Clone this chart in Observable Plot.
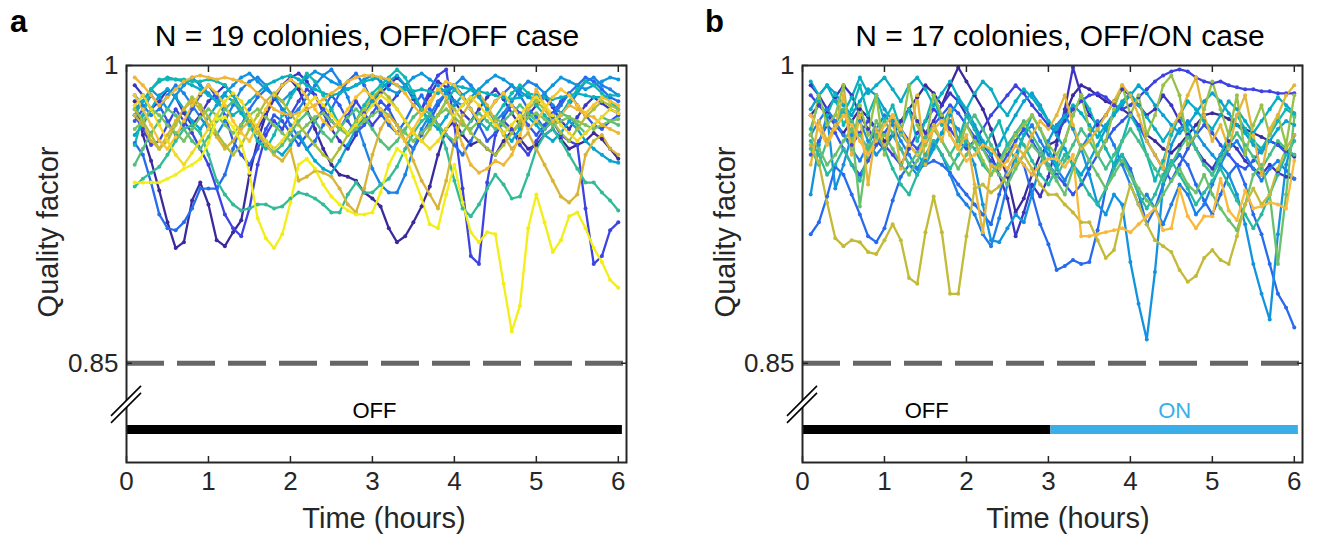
<!DOCTYPE html>
<html><head><meta charset="utf-8">
<script src="https://cdn.jsdelivr.net/npm/d3@7"></script>
<script src="https://cdn.jsdelivr.net/npm/@observablehq/plot@0.6"></script>
<style>
html,body{margin:0;padding:0;background:#fff;}
#root{position:relative;width:1320px;height:536px;overflow:hidden;font-family:"Liberation Sans",Arial,sans-serif;color:#1a1a1a;}
.panel{position:absolute;top:0;width:660px;height:536px;}
.panel svg{position:absolute;left:0;top:0;}
.lbl{position:absolute;white-space:nowrap;line-height:1;}
</style></head><body><div id="root"></div>
<script>
// ---- sampling times (hours) ----
const hours = [0.1,0.2,0.3,0.4,0.5,0.6,0.7,0.8,0.9,1.0,1.1,1.2,1.3,1.4,1.5,1.6,1.7,1.8,1.9,2.0,
  2.1,2.2,2.3,2.4,2.5,2.6,2.7,2.8,2.9,3.0,3.1,3.2,3.3,3.4,3.5,3.6,3.7,3.8,3.9,4.0,
  4.1,4.2,4.3,4.4,4.5,4.6,4.7,4.8,4.9,5.0,5.1,5.2,5.3,5.4,5.5,5.6,5.7,5.8,5.9,6.0];

// ---- panel a: OFF/OFF colonies (quality factor) ----
const offOff01 = [.982,.965,.952,.937,.921,.908,.911,.932,.941,.930,.912,.909,.916,.922,.945,.962,.975,.985,.990,.993,
  .988,.978,.968,.958,.950,.945,.944,.942,.936,.933,.929,.918,.911,.914,.921,.929,.939,.955,.968,.972,
  .965,.960,.962,.958,.955,.962,.967,.963,.958,.960,.965,.968,.963,.958,.960,.962,.966,.963,.958,.953];
const offOff02 = [.990,.985,.978,.982,.988,.984,.976,.970,.975,.982,.986,.990,.985,.978,.972,.968,.975,.983,.990,.994,
  .996,.992,.985,.976,.968,.962,.958,.965,.975,.982,.986,.990,.994,.990,.983,.978,.985,.992,.989,.982,
  .976,.972,.978,.984,.988,.983,.976,.970,.975,.980,.984,.979,.972,.968,.974,.980,.984,.981,.978,.976];
const offOff03 = [.975,.968,.960,.962,.970,.978,.972,.966,.958,.950,.938,.925,.918,.914,.928,.950,.965,.972,.968,.975,
  .982,.988,.985,.978,.972,.968,.975,.982,.976,.970,.975,.980,.985,.990,.985,.978,.988,.995,.998,.970,
  .938,.904,.900,.941,.965,.972,.968,.960,.955,.962,.968,.972,.965,.962,.960,.928,.900,.904,.917,.921];
const offOff04 = [.972,.978,.985,.980,.972,.965,.970,.978,.985,.990,.984,.975,.962,.955,.950,.958,.968,.975,.972,.966,
  .960,.965,.972,.978,.985,.980,.972,.966,.970,.976,.982,.978,.970,.962,.958,.965,.972,.980,.986,.990,
  .985,.978,.970,.962,.966,.974,.980,.976,.970,.965,.970,.976,.982,.986,.980,.975,.970,.968,.972,.975];
const offOff05 = [.961,.955,.941,.925,.918,.917,.921,.928,.938,.938,.938,.945,.958,.970,.978,.984,.988,.985,.978,.970,
  .964,.958,.962,.970,.978,.986,.992,.996,.990,.982,.976,.970,.966,.972,.980,.985,.978,.970,.965,.960,
  .955,.962,.970,.976,.982,.986,.990,.985,.978,.974,.968,.974,.980,.986,.990,.994,.992,.988,.984,.982];
const offOff06 = [.985,.980,.975,.978,.985,.990,.986,.980,.974,.968,.965,.972,.980,.988,.992,.994,.990,.984,.978,.974,
  .978,.984,.990,.995,.998,.992,.984,.972,.960,.948,.940,.936,.936,.945,.958,.968,.975,.982,.986,.990,
  .994,.990,.985,.978,.972,.976,.982,.988,.992,.990,.986,.980,.976,.980,.986,.992,.994,.990,.988,.985];
const offOff07 = [.978,.982,.988,.984,.978,.985,.990,.994,.990,.986,.982,.986,.990,.994,.996,.992,.988,.985,.982,.986,
  .990,.994,.997,.995,.992,.990,.988,.990,.993,.995,.992,.988,.986,.990,.994,.996,.993,.990,.986,.982,
  .980,.984,.988,.992,.995,.993,.990,.987,.984,.982,.986,.990,.994,.992,.990,.988,.990,.992,.994,.993];
const offOff08 = [.965,.970,.978,.985,.988,.984,.978,.972,.968,.974,.980,.985,.982,.976,.970,.966,.962,.958,.955,.960,
  .966,.958,.952,.948,.946,.952,.960,.968,.975,.982,.988,.992,.995,.990,.984,.978,.972,.968,.974,.980,
  .985,.988,.984,.978,.972,.966,.962,.968,.974,.970,.965,.962,.966,.972,.968,.962,.958,.955,.952,.951];
const offOff09 = [.975,.982,.988,.992,.994,.993,.992,.990,.988,.985,.982,.978,.975,.978,.982,.986,.990,.992,.994,.995,
  .993,.990,.988,.986,.985,.986,.988,.990,.992,.993,.994,.992,.990,.988,.987,.988,.987,.986,.988,.990,
  .989,.988,.987,.986,.985,.984,.983,.984,.986,.985,.984,.983,.984,.985,.986,.985,.984,.984,.985,.985];
const offOff10 = [.960,.975,.988,.993,.993,.993,.993,.992,.992,.993,.992,.990,.985,.978,.970,.962,.958,.965,.975,.984,
  .990,.996,.992,.985,.978,.970,.966,.972,.980,.986,.990,.994,.998,.994,.986,.978,.970,.975,.982,.988,
  .984,.978,.972,.968,.974,.980,.986,.990,.986,.980,.975,.970,.975,.982,.988,.992,.990,.986,.982,.978];
const offOff11 = [.939,.943,.946,.949,.955,.962,.968,.970,.966,.955,.942,.935,.930,.927,.928,.930,.930,.928,.929,.933,
  .936,.935,.933,.930,.926,.926,.935,.941,.936,.936,.940,.943,.949,.958,.966,.972,.975,.970,.958,.942,
  .928,.924,.930,.938,.945,.940,.933,.934,.945,.958,.965,.968,.962,.955,.948,.941,.941,.936,.932,.927];
const offOff12 = [.950,.958,.966,.972,.978,.975,.968,.962,.958,.964,.972,.978,.982,.978,.972,.966,.960,.956,.960,.966,
  .972,.976,.972,.966,.962,.968,.974,.978,.974,.968,.962,.958,.962,.968,.974,.978,.976,.970,.965,.962,
  .966,.972,.976,.972,.968,.972,.976,.980,.976,.972,.968,.972,.976,.974,.970,.966,.970,.974,.972,.970];
const offOff13 = [.968,.972,.978,.975,.970,.966,.962,.968,.974,.978,.975,.970,.966,.970,.975,.978,.974,.970,.966,.962,
  .966,.970,.974,.976,.972,.968,.965,.968,.972,.975,.978,.975,.970,.966,.962,.966,.970,.975,.978,.974,
  .970,.968,.972,.976,.974,.970,.966,.970,.974,.976,.973,.970,.972,.974,.972,.970,.968,.970,.972,.973];
const offOff14 = [.978,.972,.965,.958,.962,.970,.978,.984,.980,.974,.966,.960,.955,.960,.968,.975,.982,.986,.982,.976,
  .970,.965,.960,.955,.952,.958,.965,.972,.978,.984,.988,.984,.978,.972,.966,.962,.968,.975,.982,.978,
  .972,.966,.962,.958,.955,.960,.966,.972,.978,.982,.978,.972,.966,.962,.968,.974,.978,.982,.980,.978];
const offOff15 = [.975,.970,.962,.958,.965,.972,.978,.982,.978,.970,.964,.958,.962,.968,.972,.966,.960,.955,.952,.958,
  .942,.944,.947,.946,.944,.938,.930,.926,.938,.955,.968,.975,.970,.962,.952,.942,.935,.928,.942,.962,
  .975,.982,.986,.980,.972,.965,.958,.962,.966,.958,.950,.942,.934,.931,.935,.955,.962,.965,.958,.955];
const offOff16 = [.994,.990,.985,.980,.984,.988,.992,.994,.995,.994,.993,.994,.993,.992,.990,.986,.982,.978,.976,.975,
  .976,.978,.980,.983,.986,.989,.992,.994,.995,.995,.994,.993,.990,.986,.980,.975,.980,.988,.984,.972,
  .960,.950,.946,.948,.952,.950,.955,.965,.978,.988,.980,.972,.975,.980,.978,.975,.974,.970,.968,.966];
const offOff17 = [.985,.978,.970,.962,.958,.964,.972,.980,.986,.990,.986,.980,.972,.966,.962,.970,.978,.985,.990,.993,
  .990,.984,.978,.972,.968,.972,.978,.984,.988,.984,.978,.972,.966,.962,.968,.975,.982,.988,.992,.990,
  .984,.978,.972,.976,.982,.986,.980,.974,.968,.972,.978,.984,.988,.985,.980,.976,.980,.984,.982,.980];
const offOff18 = [.980,.985,.978,.970,.962,.955,.950,.956,.962,.968,.975,.982,.986,.982,.975,.968,.962,.958,.962,.968,
  .975,.980,.984,.980,.975,.970,.966,.970,.975,.980,.985,.982,.978,.972,.966,.962,.958,.962,.968,.975,
  .980,.984,.980,.975,.970,.966,.970,.975,.980,.984,.980,.975,.970,.966,.962,.966,.970,.974,.978,.976];
const offOff19 = [.941,.941,.941,.941,.943,.945,.948,.950,.953,.961,.973,.974,.969,.961,.946,.923,.913,.908,.915,.931,
  .950,.953,.948,.940,.934,.930,.927,.925,.925,.926,.936,.950,.958,.955,.944,.933,.920,.918,.935,.950,
  .931,.916,.911,.916,.915,.890,.866,.879,.918,.935,.921,.906,.912,.924,.926,.918,.908,.901,.892,.888];

// ---- panel b: OFF/ON colonies (quality factor) ----
const offOn01 = [.975,.980,.976,.970,.966,.972,.978,.974,.968,.962,.965,.972,.978,.984,.990,.986,.980,.990,.999,.992,
  .985,.978,.968,.955,.944,.926,.933,.945,.955,.960,.962,.975,.985,.990,.988,.985,.982,.980,.978,.975,
  .970,.965,.962,.958,.956,.960,.965,.970,.975,.976,.975,.973,.970,.968,.966,.964,.962,.960,.957,.954];
const offOn02 = [.990,.985,.978,.984,.990,.985,.975,.968,.962,.958,.965,.972,.978,.972,.966,.972,.980,.986,.982,.975,
  .968,.960,.955,.945,.933,.914,.926,.940,.934,.944,.960,.978,.999,.985,.975,.970,.975,.982,.988,.985,
  .980,.975,.978,.985,.980,.972,.965,.958,.952,.948,.955,.962,.958,.952,.948,.945,.950,.946,.944,.943];
const offOn03 = [.985,.980,.975,.970,.965,.960,.966,.972,.968,.960,.955,.950,.958,.966,.972,.978,.974,.968,.962,.958,
  .962,.968,.975,.980,.985,.990,.986,.980,.975,.970,.966,.972,.978,.982,.985,.986,.984,.980,.978,.980,
  .984,.988,.992,.995,.997,.998,.997,.994,.992,.991,.992,.990,.989,.988,.988,.987,.987,.986,.986,.986];
const offOn04 = [.955,.962,.970,.966,.958,.950,.945,.952,.960,.966,.972,.968,.962,.958,.964,.970,.975,.980,.976,.970,
  .964,.958,.952,.948,.955,.962,.968,.962,.955,.950,.945,.940,.935,.940,.948,.955,.962,.968,.972,.976,
  .970,.962,.955,.948,.942,.950,.958,.965,.970,.966,.960,.955,.950,.948,.952,.958,.962,.960,.956,.955];
const offOn05 = [.915,.921,.934,.949,.945,.935,.925,.914,.911,.918,.932,.944,.950,.948,.950,.952,.950,.946,.940,.935,
  .930,.925,.920,.935,.948,.955,.950,.935,.920,.910,.897,.899,.902,.900,.901,.917,.938,.950,.955,.948,
  .935,.920,.928,.940,.950,.955,.950,.940,.932,.925,.935,.945,.950,.940,.925,.915,.900,.885,.878,.868];
const offOn06 = [.965,.972,.978,.972,.965,.958,.952,.960,.968,.975,.970,.962,.955,.948,.955,.962,.955,.945,.935,.930,
  .925,.915,.909,.923,.940,.955,.965,.970,.962,.955,.948,.942,.950,.958,.965,.972,.968,.960,.950,.940,
  .930,.935,.928,.920,.930,.940,.935,.925,.930,.940,.950,.958,.962,.955,.948,.942,.948,.952,.947,.943];
const offOn07 = [.935,.960,.975,.938,.950,.965,.972,.962,.955,.960,.965,.958,.950,.945,.952,.960,.966,.972,.968,.960,
  .950,.930,.912,.911,.918,.925,.921,.935,.950,.962,.970,.975,.968,.958,.945,.930,.925,.935,.930,.901,
  .880,.862,.896,.940,.960,.968,.972,.966,.960,.955,.950,.945,.935,.920,.900,.885,.872,.915,.950,.965];
const offOn08 = [.978,.985,.990,.986,.980,.975,.982,.988,.985,.978,.972,.966,.960,.955,.950,.958,.966,.975,.982,.978,
  .970,.962,.955,.960,.968,.975,.982,.986,.980,.972,.965,.958,.950,.945,.952,.960,.968,.975,.980,.985,
  .990,.986,.980,.975,.970,.966,.970,.976,.982,.986,.982,.976,.970,.966,.960,.956,.962,.968,.972,.970];
const offOn09 = [.992,.985,.990,.982,.976,.984,.994,.986,.990,.994,.988,.982,.990,.994,.988,.980,.986,.992,.984,.978,
  .986,.992,.988,.980,.975,.982,.988,.984,.978,.972,.968,.974,.980,.976,.970,.964,.970,.976,.982,.986,
  .980,.974,.968,.962,.968,.975,.982,.978,.972,.968,.975,.982,.978,.972,.966,.972,.978,.984,.980,.976];
const offOn10 = [.968,.982,.975,.985,.970,.978,.990,.975,.985,.972,.980,.968,.978,.962,.972,.985,.970,.978,.962,.975,
  .968,.958,.965,.972,.960,.952,.965,.975,.968,.958,.950,.962,.975,.985,.978,.968,.958,.950,.962,.975,
  .968,.955,.942,.952,.965,.975,.968,.958,.950,.945,.955,.965,.975,.968,.962,.958,.965,.972,.978,.975];
const offOn11 = [.962,.955,.945,.950,.958,.950,.942,.955,.965,.958,.948,.940,.935,.945,.955,.962,.955,.948,.955,.962,
  .958,.950,.945,.952,.960,.966,.960,.952,.945,.940,.948,.955,.950,.942,.935,.930,.938,.948,.955,.945,
  .935,.928,.935,.945,.952,.945,.938,.930,.936,.942,.948,.940,.932,.925,.918,.925,.935,.945,.955,.962];
const offOn12 = [.958,.950,.962,.970,.978,.972,.965,.958,.964,.972,.966,.958,.950,.956,.964,.970,.962,.955,.962,.970,
  .975,.968,.960,.952,.958,.966,.972,.965,.958,.950,.944,.952,.960,.968,.962,.955,.948,.955,.962,.968,
  .962,.955,.948,.942,.950,.958,.964,.958,.950,.945,.952,.960,.966,.960,.954,.948,.955,.962,.958,.955];
const offOn13 = [.965,.958,.950,.955,.962,.968,.929,.960,.972,.965,.958,.950,.945,.952,.960,.968,.962,.955,.948,.955,
  .962,.958,.950,.945,.940,.948,.955,.960,.955,.948,.942,.935,.948,.960,.952,.945,.938,.945,.952,.945,
  .938,.932,.928,.935,.942,.948,.940,.936,.945,.935,.928,.922,.917,.930,.945,.950,.935,.900,.935,.974];
const offOn14 = [.965,.985,.970,.975,.990,.958,.980,.965,.985,.955,.975,.965,.990,.970,.960,.985,.975,.965,.958,.970,
  .962,.952,.945,.950,.958,.965,.970,.975,.968,.960,.955,.962,.975,.985,.968,.955,.962,.978,.990,.975,
  .985,.965,.975,.990,.995,.985,.960,.965,.978,.992,.978,.965,.985,.955,.970,.980,.965,.975,.960,.985];
const offOn15 = [.960,.951,.931,.913,.909,.912,.911,.906,.905,.912,.920,.912,.893,.890,.916,.934,.916,.885,.885,.914,
  .938,.940,.936,.939,.945,.950,.955,.948,.940,.935,.935,.930,.926,.921,.921,.912,.903,.907,.925,.940,
  .930,.920,.912,.909,.906,.897,.891,.894,.903,.907,.902,.900,.914,.930,.938,.930,.935,.948,.958,.965];
const offOn16 = [.950,.972,.962,.970,.985,.955,.975,.940,.968,.960,.975,.948,.962,.985,.950,.970,.962,.978,.958,.965,
  .940,.916,.950,.948,.952,.960,.955,.965,.972,.968,.975,.985,.970,.958,.962,.968,.975,.982,.990,.985,
  .975,.962,.955,.948,.968,.975,.985,.994,.975,.962,.970,.958,.975,.985,.965,.945,.968,.975,.985,.990];
const offOn17 = [.975,.968,.960,.968,.975,.970,.962,.955,.962,.970,.975,.968,.960,.955,.962,.968,.972,.965,.958,.952,
  .955,.960,.958,.952,.948,.955,.950,.945,.950,.953,.953,.949,.955,.914,.914,.915,.916,.917,.918,.916,
  .920,.924,.928,.917,.918,.938,.924,.918,.924,.924,.943,.927,.922,.937,.928,.929,.931,.930,.928,.952];

const offOffSeries = [offOff01,offOff02,offOff03,offOff04,offOff05,offOff06,offOff07,offOff08,offOff09,offOff10,
  offOff11,offOff12,offOff13,offOff14,offOff15,offOff16,offOff17,offOff18,offOff19];
const offOnSeries = [offOn01,offOn02,offOn03,offOn04,offOn05,offOn06,offOn07,offOn08,offOn09,offOn10,
  offOn11,offOn12,offOn13,offOn14,offOn15,offOn16,offOn17];

// ---- annotations ----
const xTicks = [0,1,2,3,4,5,6];
const yTicks = [0.85, 1];
const yTickLabels = ["0.85", "1"];
const threshold = 0.85;
const phaseStateA = ["OFF"], phaseStartA = [0], phaseEndA = [6.05];
const phaseStateB = ["OFF","ON"], phaseStartB = [0, 3.03], phaseEndB = [3.03, 6.05];
const titles = ["N = 19 colonies, OFF/OFF case", "N = 17 colonies, OFF/ON case"];
const panelLetters = ["a", "b"];
const xLabel = "Time (hours)", yLabel = "Quality factor";
const barLevel = 0.8166, phaseLabelLevel = 0.8262, breakAt = 0.829;

// ---- styling helpers ----
const parulaStops = [0,0.10,0.20,0.30,0.40,0.50,0.58,0.66,0.72,0.78,0.86,0.94,1];
const parulaCols = ["#3a2a9c","#3f3fe0","#2a64f0","#168ce4","#04a8cc","#12b8b0","#40bd8c","#74c266","#a8c03a","#dab437","#fab93a","#f3d823","#f3ee16"];
const parula = d3.scaleLinear().domain(parulaStops).range(parulaCols).interpolate(d3.interpolateRgb);
const phaseColor = {OFF: "#000000", ON: "#3aaee8"};
const FONT = '"Liberation Sans", Arial, sans-serif';

function makePanel(series, colorSpan, states, starts, ends) {
  const n = series.length;
  const rows = series.flatMap((vals, i) => vals.map((q, j) => ({id: i, t: hours[j], q, color: parula(i / (n - 1) * colorSpan)})));
  const phases = states.map((s, i) => ({state: s, start: starts[i], end: ends[i], color: phaseColor[s]}));
  const breakMark = (index, scales) => {
    const x0 = scales.x(0), y0 = scales.y(breakAt);
    const g = d3.create("svg:g");
    const h = 15, off = 3.5;
    g.append("path")
      .attr("d", `M${x0-h},${y0+h+off}L${x0+h},${y0-h+off}L${x0+h},${y0-h-off}L${x0-h},${y0+h-off}Z`)
      .attr("fill", "#fff");
    for (const o of [off, -off]) {
      g.append("line").attr("x1", x0-h).attr("y1", y0+h+o).attr("x2", x0+h).attr("y2", y0-h+o)
        .attr("stroke", "#000").attr("stroke-width", 1.6);
    }
    return g.node();
  };
  return Plot.plot({
    width: 660, height: 536,
    marginLeft: 126, marginRight: 34, marginTop: 65, marginBottom: 74,
    x: {domain: [0, 6.1]},
    y: {domain: [0.8, 1.0]},
    color: {type: "identity"},
    style: {fontFamily: FONT, fontSize: "26px", color: "#262626", background: "transparent", overflow: "visible"},
    marks: [
      Plot.ruleY([threshold], {stroke: "#666666", strokeWidth: 5, strokeDasharray: "38,13"}),
      Plot.line(rows, {x: "t", y: "q", z: "id", stroke: "color", strokeWidth: 2.3}),
      Plot.dot(rows, {x: "t", y: "q", fill: "color", r: 2}),
      Plot.ruleY(phases, {y: () => barLevel, x1: "start", x2: "end", stroke: "color", strokeWidth: 9}),
      Plot.text(phases, {x: d => (d.start + d.end) / 2, y: () => phaseLabelLevel, text: "state", fill: "color", fontSize: 22}),
      Plot.frame({stroke: "#262626", strokeWidth: 2}),
      Plot.axisX({ticks: xTicks, tickSize: -6, tickPadding: 15, tickFormat: d => String(d), label: null, fontSize: 26, stroke: "#262626", strokeWidth: 1.5}),
      Plot.axisX({anchor: "top", ticks: xTicks, tickSize: -6, tickFormat: () => "", label: null, stroke: "#262626", strokeWidth: 1.5}),
      Plot.axisY({ticks: yTicks, tickSize: -6, tickPadding: 14, tickFormat: d => yTickLabels[yTicks.indexOf(d)], label: null, fontSize: 26, stroke: "#262626", strokeWidth: 1.5}),
      Plot.axisY({anchor: "right", ticks: yTicks, tickSize: -6, tickFormat: () => "", label: null, stroke: "#262626", strokeWidth: 1.5}),
      breakMark
    ]
  });
}

const root = document.getElementById("root");
const layouts = [
  {left: 0, series: offOffSeries, span: 1, states: phaseStateA, starts: phaseStartA, ends: phaseEndA,
   letterX: 10, titleX: 367, xLabelX: 384, yLabelX: 48, yLabelY: 232},
  {left: 676, series: offOnSeries, span: 0.86, states: phaseStateB, starts: phaseStartB, ends: phaseEndB,
   letterX: 29, titleX: 384, xLabelX: 392, yLabelX: 49, yLabelY: 232}
];
layouts.forEach((L, k) => {
  const div = document.createElement("div");
  div.className = "panel";
  div.style.left = L.left + "px";
  div.appendChild(makePanel(L.series, L.span, L.states, L.starts, L.ends));
  const mk = (text, css) => {
    const e = document.createElement("div");
    e.className = "lbl";
    e.textContent = text;
    Object.assign(e.style, css);
    div.appendChild(e);
    return e;
  };
  mk(panelLetters[k], {left: L.letterX + "px", top: "6px", fontSize: "31px", fontWeight: "bold", color: "#000"});
  mk(titles[k], {left: L.titleX + "px", top: "21px", fontSize: "30px", transform: "translateX(-50%)", color: "#000"});
  mk(xLabel, {left: L.xLabelX + "px", top: "504px", fontSize: "29px", transform: "translateX(-50%)", color: "#262626"});
  mk(yLabel, {left: L.yLabelX + "px", top: L.yLabelY + "px", fontSize: "29px", transform: "translate(-50%,-50%) rotate(-90deg)", color: "#262626"});
  root.appendChild(div);
});
</script></body></html>
